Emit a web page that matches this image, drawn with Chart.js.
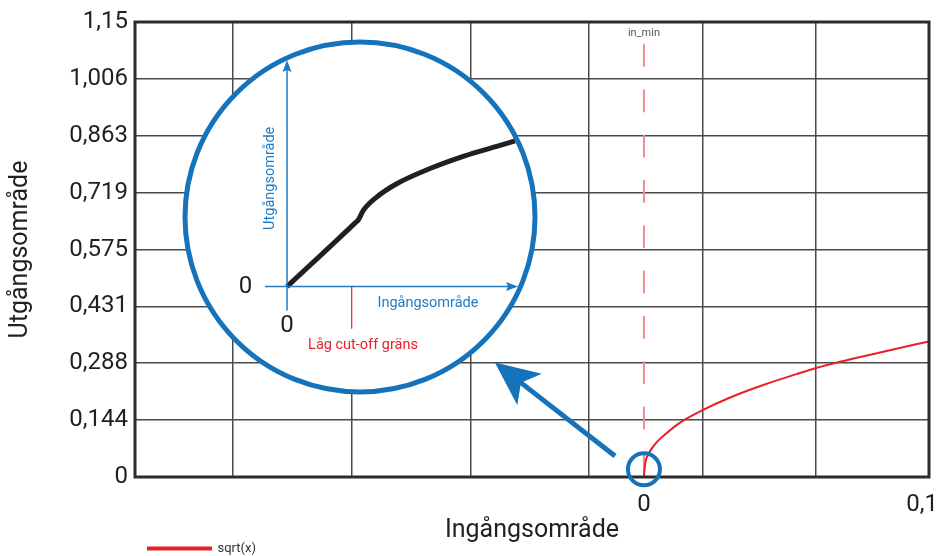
<!DOCTYPE html>
<html>
<head>
<meta charset="utf-8">
<script src="https://cdn.jsdelivr.net/npm/chart.js@4.4.0/dist/chart.umd.min.js"></script>
<style>
  body { margin: 0; background: #fff; }
  canvas { display: block; }
</style>
</head>
<body>
<canvas id="chart" width="941" height="556"></canvas>
<script>
// huvudkurva sqrt(x)
var sqrtX = [0, 0.0004, 0.0016, 0.004, 0.0082, 0.013, 0.0211, 0.031, 0.0429, 0.0549, 0.0619, 0.0705, 0.0849, 0.1025];
var sqrtY = [0, 0.032, 0.0575, 0.083, 0.111, 0.1375, 0.169, 0.201, 0.2325, 0.260, 0.2753, 0.2913, 0.3148, 0.3427];

// in_min-linjen (streckad)
var inMinX = [0, 0];
var inMinY = [1.094, 0];

// förstoringen (egna enheter, 0..1 längs pilarna)
var insetX = [0, 0.114, 0.215, 0.294, 0.309, 0.330, 0.388, 0.475, 0.619, 0.763, 0.908, 0.987];
var insetY = [0, 0.108, 0.204, 0.280, 0.295, 0.336, 0.395, 0.454, 0.521, 0.575, 0.619, 0.643];
var cutoffX = 0.28;

// axlar
var yTickValues = [0, 0.144, 0.288, 0.431, 0.575, 0.719, 0.863, 1.006, 1.15];
var yTickLabels = ['0', '0,144', '0,288', '0,431', '0,575', '0,719', '0,863', '1,006', '1,15'];
var xTickValues = [0, 0.1];
var xTickLabels = ['0', '0,1'];
var xGridValues = [-0.1478, -0.1050, -0.0622, -0.0197, 0.0211, 0.0619];

var FONT = 'Roboto, "Noto Sans", sans-serif';
var BLUE = '#1573bb';
var RED = '#e8202a';
var DARK = '#231f20';

function pts(xs, ys) {
  return xs.map(function (x, i) { return { x: x, y: ys[i] }; });
}

function arrowHead(ctx, x0, y0, x1, y1, len, half, notch) {
  var a = Math.atan2(y1 - y0, x1 - x0);
  var c = Math.cos(a), s = Math.sin(a);
  ctx.beginPath();
  ctx.moveTo(x1, y1);
  ctx.lineTo(x1 - len * c - half * s, y1 - len * s + half * c);
  ctx.lineTo(x1 - notch * c, y1 - notch * s);
  ctx.lineTo(x1 - len * c + half * s, y1 - len * s - half * c);
  ctx.closePath();
  ctx.fill();
}

var overlay = {
  id: 'overlay',
  afterLayout: function (chart) {
    // legenden nere till vänster
    chart.legend.left = 146;
    chart.legend.top = 540;
  },
  beforeDatasetsDraw: function (chart) {
    var ctx = chart.ctx, xi = chart.scales.xi, yi = chart.scales.yi;
    ctx.save();
    ctx.beginPath();
    ctx.arc(xi.getPixelForValue(0.316), yi.getPixelForValue(0.3075), 175, 0, Math.PI * 2);
    ctx.fillStyle = '#fff';
    ctx.fill();
    ctx.restore();
  },
  afterDatasetsDraw: function (chart) {
    var ctx = chart.ctx, a = chart.chartArea;
    var x = chart.scales.x, y = chart.scales.y, xi = chart.scales.xi, yi = chart.scales.yi;
    ctx.save();

    // ram
    ctx.strokeStyle = '#2b2b2b';
    ctx.lineWidth = 3;
    ctx.strokeRect(a.left, a.top, a.right - a.left, a.bottom - a.top);

    // in_min
    ctx.fillStyle = '#555';
    ctx.font = '11px ' + FONT;
    ctx.textAlign = 'center';
    ctx.textBaseline = 'middle';
    ctx.fillText('in_min', x.getPixelForValue(0), y.getPixelForValue(1.122));

    // lupp
    ctx.strokeStyle = BLUE;
    ctx.lineWidth = 5;
    ctx.beginPath();
    ctx.arc(xi.getPixelForValue(0.316), yi.getPixelForValue(0.3075), 175, 0, Math.PI * 2);
    ctx.stroke();

    // små cirkel vid origo
    ctx.lineWidth = 4;
    ctx.beginPath();
    ctx.arc(x.getPixelForValue(0), y.getPixelForValue(0.0195), 16, 0, Math.PI * 2);
    ctx.stroke();

    // stora pilen
    var ax0 = x.getPixelForValue(-0.0104), ay0 = y.getPixelForValue(0.053);
    var ax1 = x.getPixelForValue(-0.0536), ay1 = y.getPixelForValue(0.2895);
    var ang = Math.atan2(ay1 - ay0, ax1 - ax0);
    ctx.lineWidth = 5;
    ctx.beginPath();
    ctx.moveTo(ax0, ay0);
    ctx.lineTo(ax1 - 30 * Math.cos(ang), ay1 - 30 * Math.sin(ang));
    ctx.stroke();
    ctx.fillStyle = BLUE;
    arrowHead(ctx, ax0, ay0, ax1, ay1, 44, 20, 33);

    // förstoringens axlar
    var ox = xi.getPixelForValue(0), oy = yi.getPixelForValue(0);
    ctx.strokeStyle = '#1e7bc4';
    ctx.fillStyle = '#1e7bc4';
    ctx.lineWidth = 1.5;
    ctx.beginPath();
    ctx.moveTo(xi.getPixelForValue(-0.095), oy);
    ctx.lineTo(xi.getPixelForValue(1) - 4, oy);
    ctx.moveTo(ox, yi.getPixelForValue(-0.106));
    ctx.lineTo(ox, yi.getPixelForValue(1) + 4);
    ctx.stroke();
    arrowHead(ctx, ox, oy, xi.getPixelForValue(1), oy, 12, 4.5, 10);
    arrowHead(ctx, ox, oy, ox, yi.getPixelForValue(1), 12, 4.5, 10);

    // cut-off markering
    ctx.strokeStyle = RED;
    ctx.lineWidth = 1.2;
    ctx.beginPath();
    ctx.moveTo(xi.getPixelForValue(cutoffX), oy);
    ctx.lineTo(xi.getPixelForValue(cutoffX), yi.getPixelForValue(-0.186));
    ctx.stroke();

    // texter i förstoringen
    ctx.textAlign = 'center';
    ctx.textBaseline = 'middle';
    ctx.fillStyle = DARK;
    ctx.font = '24px ' + FONT;
    ctx.fillText('0', xi.getPixelForValue(-0.18), yi.getPixelForValue(0));
    ctx.fillText('0', xi.getPixelForValue(0), yi.getPixelForValue(-0.173));

    ctx.font = '14.5px ' + FONT;
    ctx.fillStyle = '#1e7bc4';
    ctx.fillText('Ingångsområde', xi.getPixelForValue(0.61), yi.getPixelForValue(-0.075));
    ctx.fillStyle = RED;
    ctx.fillText('Låg cut-off gräns', xi.getPixelForValue(0.329), yi.getPixelForValue(-0.261));

    ctx.save();
    ctx.translate(xi.getPixelForValue(-0.074), yi.getPixelForValue(0.478));
    ctx.rotate(-Math.PI / 2);
    ctx.fillStyle = '#1e7bc4';
    ctx.fillText('Utgångsområde', 0, 0);
    ctx.restore();

    ctx.restore();
  }
};

var chart = new Chart(document.getElementById('chart').getContext('2d'), {
  type: 'line',
  data: {
    datasets: [{
      label: 'sqrt(x)',
      data: pts(sqrtX, sqrtY),
      borderColor: RED,
      backgroundColor: RED,
      borderWidth: 2,
      pointRadius: 0,
      cubicInterpolationMode: 'monotone'
    }, {
      label: 'in_min',
      data: pts(inMinX, inMinY),
      borderColor: '#f28b91',
      borderWidth: 2,
      borderDash: [22.7, 22.6],
      pointRadius: 0
    }, {
      label: 'lupp',
      data: pts(insetX, insetY),
      xAxisID: 'xi',
      yAxisID: 'yi',
      borderColor: DARK,
      borderWidth: 5,
      pointRadius: 0,
      cubicInterpolationMode: 'monotone'
    }]
  },
  options: {
    responsive: false,
    animation: false,
    devicePixelRatio: 1,
    layout: { padding: { top: 22, right: 12, left: 0, bottom: 0 } },
    scales: {
      x: {
        type: 'linear',
        min: -0.183,
        max: 0.1025,
        afterBuildTicks: function (s) {
          s.ticks = xGridValues.concat(xTickValues).sort(function (a, b) { return a - b; })
            .map(function (v) { return { value: v }; });
        },
        afterFit: function (s) {
          s.height = 54;
          s.paddingLeft = 0;
          s.paddingRight = 0;
        },
        ticks: {
          autoSkip: false,
          maxRotation: 0,
          padding: 14,
          color: DARK,
          font: { family: FONT, size: 24 },
          callback: function (v) {
            var i = xTickValues.indexOf(v);
            return i < 0 ? '' : xTickLabels[i];
          }
        },
        grid: {
          drawTicks: false,
          lineWidth: 1.5,
          color: function (c) {
            return (c.tick && xTickValues.indexOf(c.tick.value) >= 0) ? 'rgba(0,0,0,0)' : '#4a4a4a';
          }
        },
        border: { display: false },
        title: {
          display: true,
          text: 'Ingångsområde',
          color: DARK,
          font: { family: FONT, size: 25 },
          padding: { top: 0, bottom: -15 }
        }
      },
      y: {
        type: 'linear',
        min: 0,
        max: 1.15,
        afterBuildTicks: function (s) {
          s.ticks = yTickValues.map(function (v) { return { value: v }; });
        },
        afterFit: function (s) { s.width = 135; },
        ticks: {
          autoSkip: false,
          padding: 7,
          color: DARK,
          font: { family: FONT, size: 24 },
          callback: function (v) {
            var i = yTickValues.indexOf(v);
            return i < 0 ? '' : yTickLabels[i];
          }
        },
        grid: { drawTicks: false, lineWidth: 1.5, color: '#4a4a4a' },
        border: { display: false },
        title: {
          display: true,
          text: 'Utgångsområde',
          color: DARK,
          font: { family: FONT, size: 25 },
          padding: { top: 6, bottom: 0 }
        }
      },
      xi: { type: 'linear', axis: 'x', display: false, min: -0.658, max: 2.779 },
      yi: { type: 'linear', axis: 'y', display: false, min: -0.8407, max: 1.168 }
    },
    plugins: {
      legend: {
        position: 'bottom',
        align: 'start',
        labels: {
          boxWidth: 63,
          boxHeight: 2,
          padding: 2,
          color: '#333',
          font: { family: FONT, size: 13 },
          filter: function (item) { return item.text === 'sqrt(x)'; }
        }
      },
      tooltip: { enabled: false }
    }
  },
  plugins: [overlay]
});
</script>
</body>
</html>
